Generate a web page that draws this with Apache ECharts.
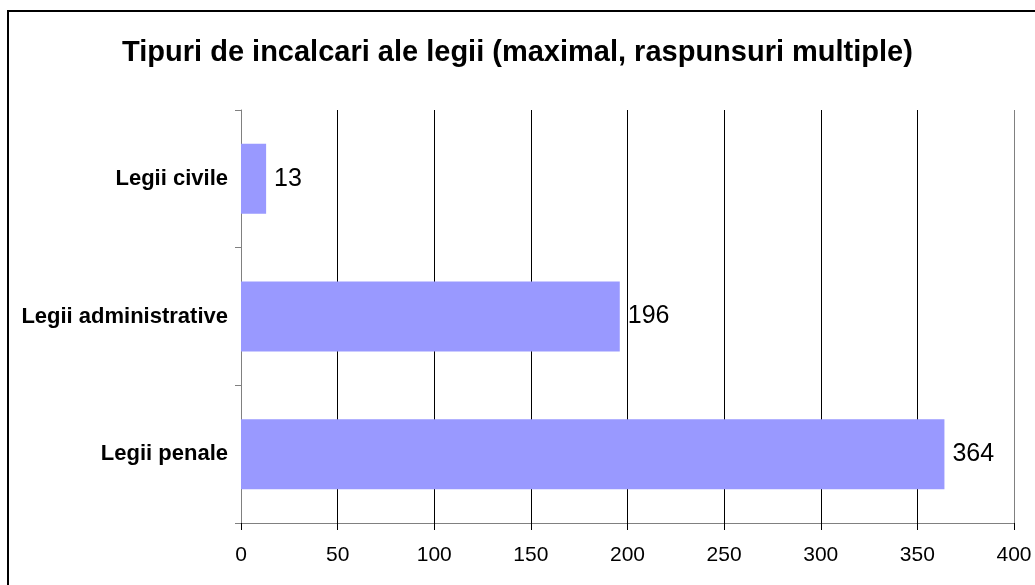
<!DOCTYPE html>
<html>
<head>
<meta charset="utf-8">
<script src="https://cdn.jsdelivr.net/npm/echarts@6/dist/echarts.min.js"></script>
<style>
	html, body { margin: 0; padding: 0; background: #fff; }
	#chart { width: 1035px; height: 585px; }
</style>
</head>
<body>
<div id="chart"></div>
<script>
var titleText = 'Tipuri de incalcari ale legii (maximal, raspunsuri multiple)';
var categories = ['Legii penale', 'Legii administrative', 'Legii civile'];
var values = [364, 196, 13];
var xTicks = [0, 50, 100, 150, 200, 250, 300, 350, 400];

var font = 'Arial, "Liberation Sans", sans-serif';

var dom = document.getElementById('chart');
var myChart = echarts.init(dom, null, { renderer: 'canvas' });

// last gridline (at 400) is grey like the axis lines
var gridColors = xTicks.map(function (t, i) {
	return (i === 0 || i === xTicks.length - 1) ? '#808080' : '#000000';
});

var option = {
	backgroundColor: '#ffffff',
	animation: false,
	title: {
		text: titleText,
		left: 'center',
		top: 33,
		textStyle: {
			fontFamily: font,
			fontSize: 29,
			fontWeight: 'bold',
			color: '#000'
		}
	},
	graphic: [{
		type: 'rect',
		shape: { x: 8, y: 11, width: 1100, height: 700 },
		style: { fill: 'none', stroke: '#000', lineWidth: 2 },
		silent: true
	}],
	grid: {
		left: 241,
		right: 21,
		top: 110,
		bottom: 62
	},
	xAxis: {
		type: 'value',
		min: 0,
		max: 400,
		interval: 50,
		axisLine: { show: true, lineStyle: { color: '#808080', width: 1 } },
		axisTick: { show: true, length: 7, lineStyle: { color: '#000' } },
		axisLabel: {
			margin: 22,
			fontFamily: font,
			fontSize: 21,
			color: '#000'
		},
		splitLine: {
			show: true,
			lineStyle: { color: gridColors, width: 1 }
		}
	},
	yAxis: {
		type: 'category',
		data: categories,
		axisLine: { show: true, lineStyle: { color: '#808080', width: 1 } },
		axisTick: { show: true, length: 6, lineStyle: { color: '#808080' } },
		axisLabel: {
			margin: 13,
			fontFamily: font,
			fontSize: 22,
			fontWeight: 'bold',
			color: '#000'
		},
		splitLine: { show: false }
	},
	series: [{
		type: 'bar',
		data: values,
		barWidth: 70,
		itemStyle: { color: '#9999FF' },
		label: {
			show: true,
			position: 'right',
			distance: 8,
			fontFamily: font,
			fontSize: 25,
			color: '#000'
		}
	}]
};

myChart.setOption(option);
window.addEventListener('resize', myChart.resize);
</script>
</body>
</html>
